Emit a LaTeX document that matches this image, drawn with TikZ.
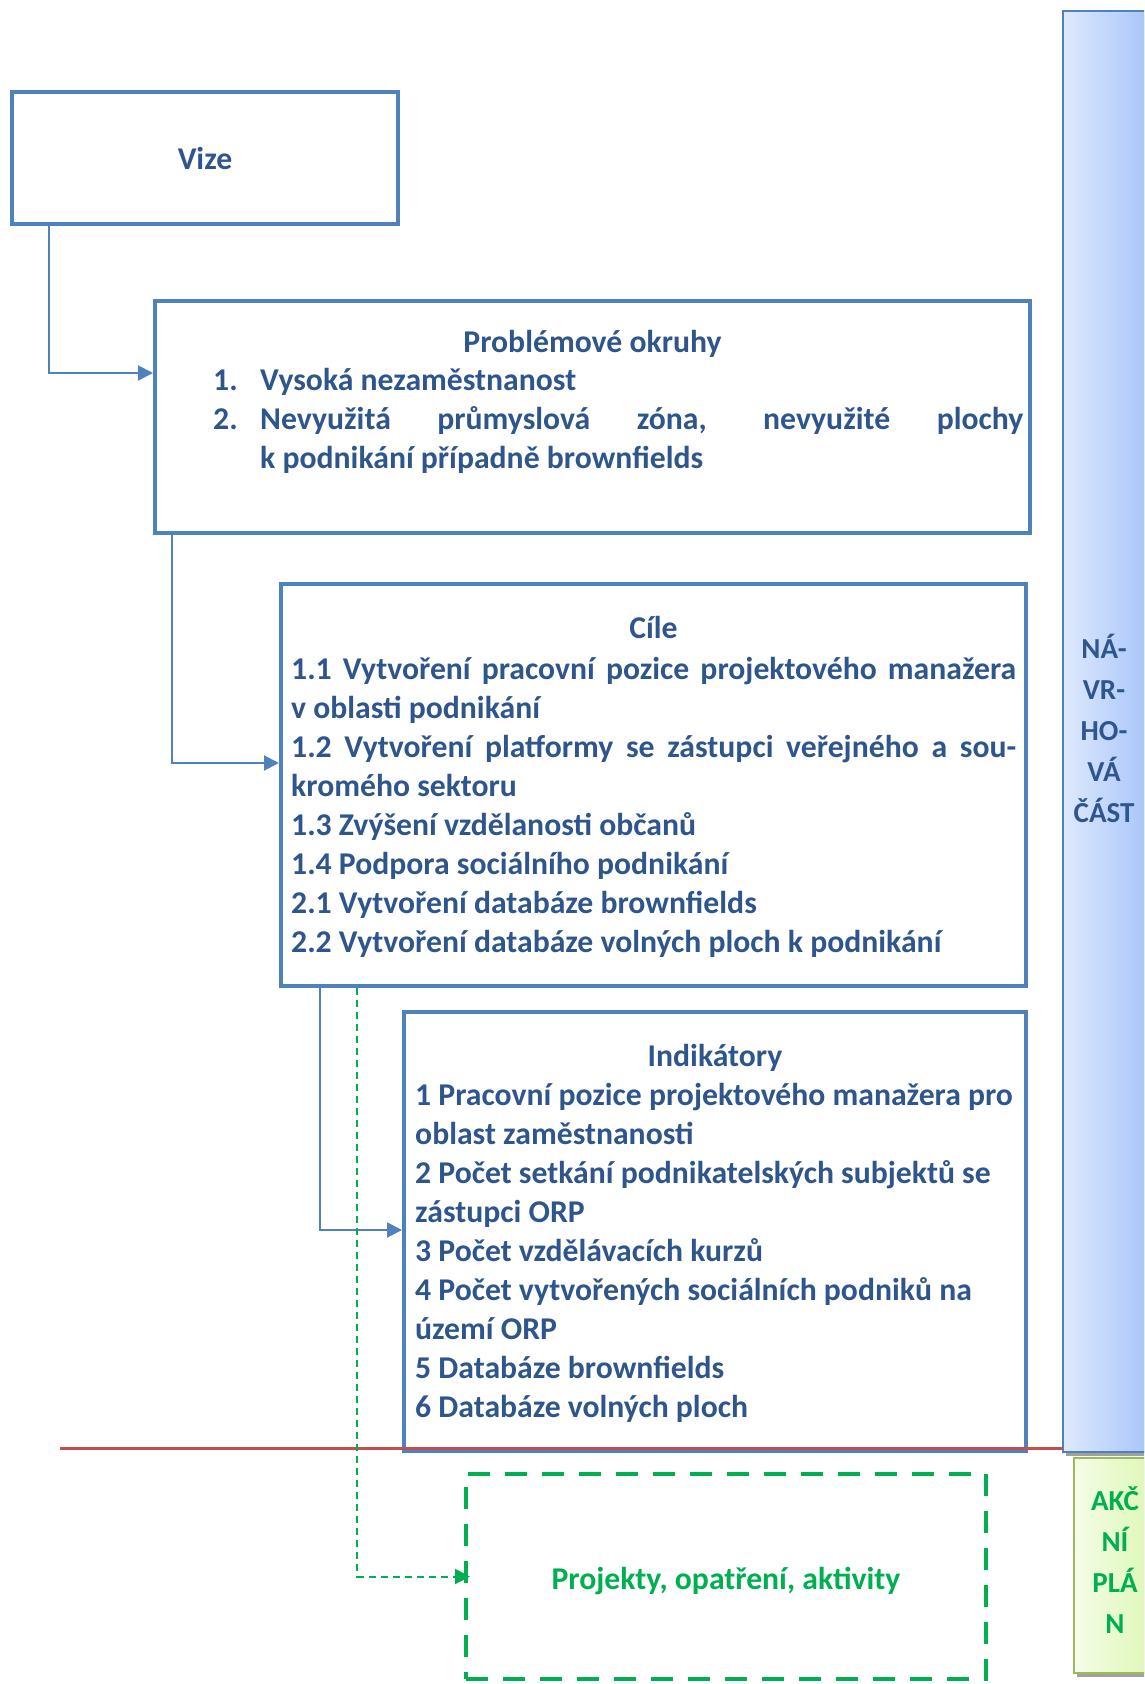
\documentclass[tikz,border=0pt]{standalone}
\usepackage{fontspec}
\setmainfont{Carlito}
\usetikzlibrary{arrows.meta}
\definecolor{boxblue}{RGB}{79,129,189}
\definecolor{txtblue}{RGB}{47,86,140}
\definecolor{redline}{RGB}{192,80,77}
\definecolor{grn}{RGB}{0,176,80}
\definecolor{barL}{RGB}{222,233,253}
\definecolor{barR}{RGB}{168,198,250}
\definecolor{gbarL}{RGB}{244,253,232}
\definecolor{gbarR}{RGB}{220,247,178}
\definecolor{gborder}{RGB}{155,187,89}
\definecolor{shadowgray}{RGB}{160,160,160}
\newcommand\natsp{\spaceskip=0pt\xspaceskip=0pt\relax}
\newcommand\justline[2]{\hbox to #1{\natsp #2}}
\begin{document}
\begin{tikzpicture}[x=1pt,y=-1pt,
  box/.style={draw=boxblue, line width=4pt, outer sep=2pt, inner sep=0pt, rectangle},
  txt/.style={text=txtblue, font=\bfseries\fontsize{31.7}{39}\selectfont, inner sep=0pt},
  bartxt/.style={font=\bfseries\fontsize{29}{41}\selectfont, inner sep=0pt, text width=80pt, align=center},
  conn/.style={draw=boxblue, line width=2pt, -{Triangle[length=15pt,width=15pt]}},
  gconn/.style={draw=grn, line width=2pt, dash pattern=on 7pt off 5pt, -{Triangle[length=15pt,width=15pt]}},
  sidebar/.style={line width=1.5pt, outer sep=0pt, inner sep=0pt, rectangle},
]
\useasboundingbox (0,0) rectangle (1144,1684);
\clip (0,0) rectangle (1144,1684);

% side bars with shadows
\fill[shadowgray] (1066,15) rectangle (1150,1456);
\node[sidebar, draw=boxblue, left color=barL, right color=barR,
      minimum width=84pt, minimum height=1441pt] (navrh) at (1105,731.5) {};
\node[bartxt, text=txtblue, anchor=base] (navrht) at (1104,658) {NÁ-\\VR-\\HO-\\VÁ\\ČÁST};

\fill[shadowgray] (1077,1461) rectangle (1160,1677);
\node[sidebar, draw=gborder, left color=gbarL, right color=gbarR,
      minimum width=83pt, minimum height=215pt] (akc) at (1115.5,1565.5) {};
\node[bartxt, text=grn, anchor=base] (akct) at (1115,1510) {AKČ\\NÍ\\PLÁ\\N};

% Vize
\node[box, txt, minimum width=386pt, minimum height=132pt] (vize) at (205,158) {Vize};

% Problemove okruhy
\node[box, minimum width=875pt, minimum height=232pt] (prob) at (592.5,417) {};
\node[txt, anchor=base] (probt) at (592.5,352) {Problémové okruhy};
\node[txt, anchor=base west, text width=770pt, align=left] (probl) at (260,390)
  {\natsp\leavevmode\llap{\hbox to 47pt{1.\hfil}}Vysoká nezaměstnanost\\
   \leavevmode\llap{\hbox to 47pt{2.\hfil}}\justline{763pt}{Nevyužitá průmyslová zóna, nevyužité plochy}\\
   k podnikání případně brownfields};

% Cile
\node[box, minimum width=745pt, minimum height=402pt] (cile) at (653.5,785) {};
\node[txt, anchor=base] (cilet) at (653.5,638) {Cíle};
\node[txt, anchor=base west, text width=740pt, align=left] (cilel) at (291,679)
  {\natsp\leavevmode\justline{725pt}{1.1 Vytvoření pracovní pozice projektového manažera}\\
   v oblasti podnikání\\
   \leavevmode\justline{725pt}{1.2 Vytvoření platformy se zástupci veřejného a sou-}\\
   kromého sektoru\\
   1.3 Zvýšení vzdělanosti občanů\\
   1.4 Podpora sociálního podnikání\\
   2.1 Vytvoření databáze brownfields\\
   2.2 Vytvoření databáze volných ploch k podnikání};

% Indikatory
\node[box, minimum width=622pt, minimum height=439pt] (indi) at (715,1231.5) {};
\node[txt, anchor=base] (indit) at (715,1066) {Indikátory};
\node[txt, anchor=base west, text width=640pt, align=left] (indil) at (415,1105)
  {\natsp 1 Pracovní pozice projektového manažera pro\\
   oblast zaměstnanosti\\
   2 Počet setkání podnikatelských subjektů se\\
   zástupci ORP\\
   3 Počet vzdělávacích kurzů\\
   4 Počet vytvořených sociálních podniků na\\
   území ORP\\
   5 Databáze brownfields\\
   6 Databáze volných ploch};

% Projekty
\node[draw=grn, line width=4pt, dash pattern=on 22pt off 15pt, outer sep=2pt,
      minimum width=520pt, minimum height=205pt] (proj) at (726,1576.5) {};
\node[text=grn, font=\bfseries\fontsize{31.7}{39}\selectfont, inner sep=0pt, anchor=base]
  (projt) at (726,1589) {Projekty, opatření, aktivity};

% red separator
\coordinate (rl) at (60,1448.5);
\draw[redline, line width=3.5pt] (rl) -- (rl -| navrh.west);

% connectors
\draw[conn] ([xshift=39pt]vize.south west) |- ([yshift=44pt]prob.west);
\draw[conn] ([xshift=19pt]prob.south west) |- ([yshift=22pt]cile.west);
\draw[conn] ([xshift=41pt]cile.south west) |- ([yshift=1.5pt]indi.west);
\draw[gconn] ([xshift=78pt]cile.south west) |- ([xshift=6pt]proj.west);
\end{tikzpicture}
\end{document}
